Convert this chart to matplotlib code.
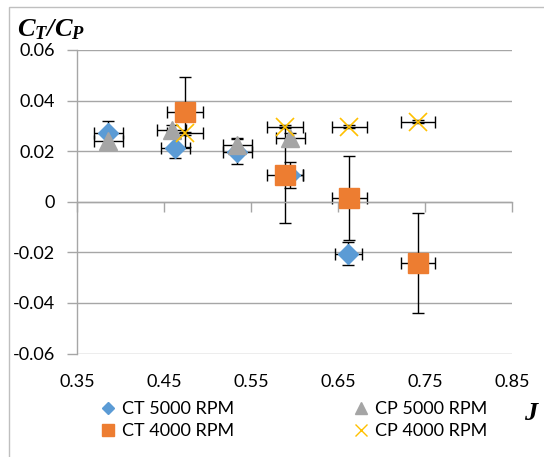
import matplotlib
matplotlib.use("Agg")
import matplotlib.pyplot as plt
from matplotlib.lines import Line2D
from matplotlib.patches import Rectangle

plt.rcParams['font.family'] = ['Lato', 'DejaVu Sans']
plt.rcParams['mathtext.fontset'] = 'custom'
plt.rcParams['mathtext.rm'] = 'Liberation Serif:bold:italic'
plt.rcParams['mathtext.it'] = 'Liberation Serif:bold:italic'

# Advance ratio J and coefficient values with their uncertainties
ct5000_j = [0.386, 0.463, 0.534, 0.595, 0.662]
ct5000_v = [0.0270, 0.0214, 0.0198, 0.0107, -0.0206]
ct5000_yerr = [0.0050, 0.0040, 0.0050, 0.0052, 0.0045]
ct5000_xerr = [0.0167, 0.0167, 0.0167, 0.0150, 0.0160]

cp5000_j = [0.386, 0.459, 0.534, 0.595]
cp5000_v = [0.0240, 0.0283, 0.0226, 0.0252]
cp5000_yerr = [0.0020, 0.0020, 0.0027, 0.0020]
cp5000_xerr = [0.0167, 0.0167, 0.0167, 0.0167]

ct4000_j = [0.474, 0.589, 0.663, 0.742]
ct4000_v = [0.0356, 0.0107, 0.0016, -0.0241]
ct4000_yerr = [0.0139, 0.0190, 0.0166, 0.0198]
ct4000_xerr = [0.0210, 0.0205, 0.0200, 0.0200]

cp4000_j = [0.474, 0.589, 0.663, 0.742]
cp4000_v = [0.0271, 0.0297, 0.0297, 0.0317]
cp4000_yerr = [0.0006, 0.0006, 0.0006, 0.0006]
cp4000_xerr = [0.0210, 0.0205, 0.0200, 0.0200]

x_ticks = [0.35, 0.45, 0.55, 0.65, 0.75, 0.85]
x_labels = ['0.35', '0.45', '0.55', '0.65', '0.75', '0.85']
y_ticks = [-0.06, -0.04, -0.02, 0, 0.02, 0.04, 0.06]
y_labels = ['-0.06', '-0.04', '-0.02', '0', '0.02', '0.04', '0.06']

BLUE = '#5B9BD5'
ORANGE = '#ED7D31'
GREY = '#A5A5A5'
GOLD = '#FFC000'
AXIS = '#A6A6A6'

W, H = 544, 457
fig = plt.figure(figsize=(W / 100, H / 100), dpi=100)
ax = fig.add_axes([77 / W, 1 - 353.5 / H, (512 - 77) / W, (353.5 - 50) / H])
ax.set_xlim(0.35, 0.85)
ax.set_ylim(-0.06, 0.06)

# outer chart frame
fig.patches.append(Rectangle((9 / W, -0.1), 2, 1 - 7 / H + 0.1, transform=fig.transFigure,
                             fill=False, ec='#BFBFBF', lw=1.0))

for s in ['top', 'right']:
    ax.spines[s].set_visible(False)
ax.spines['left'].set_color(AXIS)
ax.spines['bottom'].set_color(AXIS)
ax.spines['bottom'].set_position(('data', 0))
ax.spines['left'].set_linewidth(1.0)
ax.spines['bottom'].set_linewidth(1.0)

ax.set_yticks(y_ticks, y_labels)
ax.tick_params(axis='y', direction='out', length=7, color=AXIS, width=1.0, pad=9,
               labelsize=13, labelcolor='black')
ax.yaxis.grid(True, color=AXIS, lw=1.0)
ax.set_axisbelow(True)

ax.set_xticks(x_ticks)
ax.tick_params(axis='x', direction='out', length=7, color=AXIS, width=1.0, labelbottom=False)

sec = ax.secondary_xaxis('bottom')
sec.set_xticks(x_ticks, x_labels)
sec.tick_params(length=0, pad=15, labelsize=13, labelcolor='black')
sec.spines['bottom'].set_visible(False)

eb_kw = dict(fmt='none', ecolor='black', elinewidth=1.0, capsize=4.5, capthick=1.0, zorder=2)
ax.errorbar(ct5000_j, ct5000_v, yerr=ct5000_yerr, xerr=ct5000_xerr, **eb_kw)
ax.errorbar(cp5000_j, cp5000_v, yerr=cp5000_yerr, xerr=cp5000_xerr, **eb_kw)
ax.errorbar(ct4000_j, ct4000_v, yerr=ct4000_yerr, xerr=ct4000_xerr, **eb_kw)
ax.errorbar(cp4000_j, cp4000_v, yerr=cp4000_yerr, xerr=cp4000_xerr, **eb_kw)

ax.plot(ct5000_j, ct5000_v, ls='none', marker='D', ms=10, mfc=BLUE, mec=BLUE, zorder=3)
ax.plot(cp5000_j, cp5000_v, ls='none', marker='^', ms=13.5, mfc=GREY, mec=GREY, zorder=4)
ax.plot(ct4000_j, ct4000_v, ls='none', marker='s', ms=14, mfc=ORANGE, mec=ORANGE, zorder=5)
ax.plot(cp4000_j, cp4000_v, ls='none', marker='x', ms=13, mec=GOLD, mew=1.2, zorder=6)

# axis titles
fig.text(17 / W, 1 - 36 / H, r'$\mathrm{C_T/C_P}$', fontsize=19, ha='left', va='baseline')
fig.text(532 / W, 1 - 412 / H, r'$\mathrm{J}$', fontsize=19, ha='center', va='center')

handles = [
    Line2D([], [], ls='none', marker='D', ms=6.5, mfc=BLUE, mec=BLUE),
    Line2D([], [], ls='none', marker='s', ms=8.5, mfc=ORANGE, mec=ORANGE),
    Line2D([], [], ls='none', marker='^', ms=9, mfc=GREY, mec=GREY),
    Line2D([], [], ls='none', marker='x', ms=8.5, mec=GOLD, mew=1.0),
]
labels = ['CT 5000 RPM', 'CT 4000 RPM', 'CP 5000 RPM', 'CP 4000 RPM']
fig.legend(handles, labels, ncol=2, loc='upper left', bbox_to_anchor=(100 / W, 1 - 401 / H),
           frameon=False, fontsize=13, handlelength=0.9, handletextpad=0.3,
           columnspacing=6.6, labelspacing=0.35, borderpad=0, borderaxespad=0)

fig.savefig('out.png', dpi=100)
